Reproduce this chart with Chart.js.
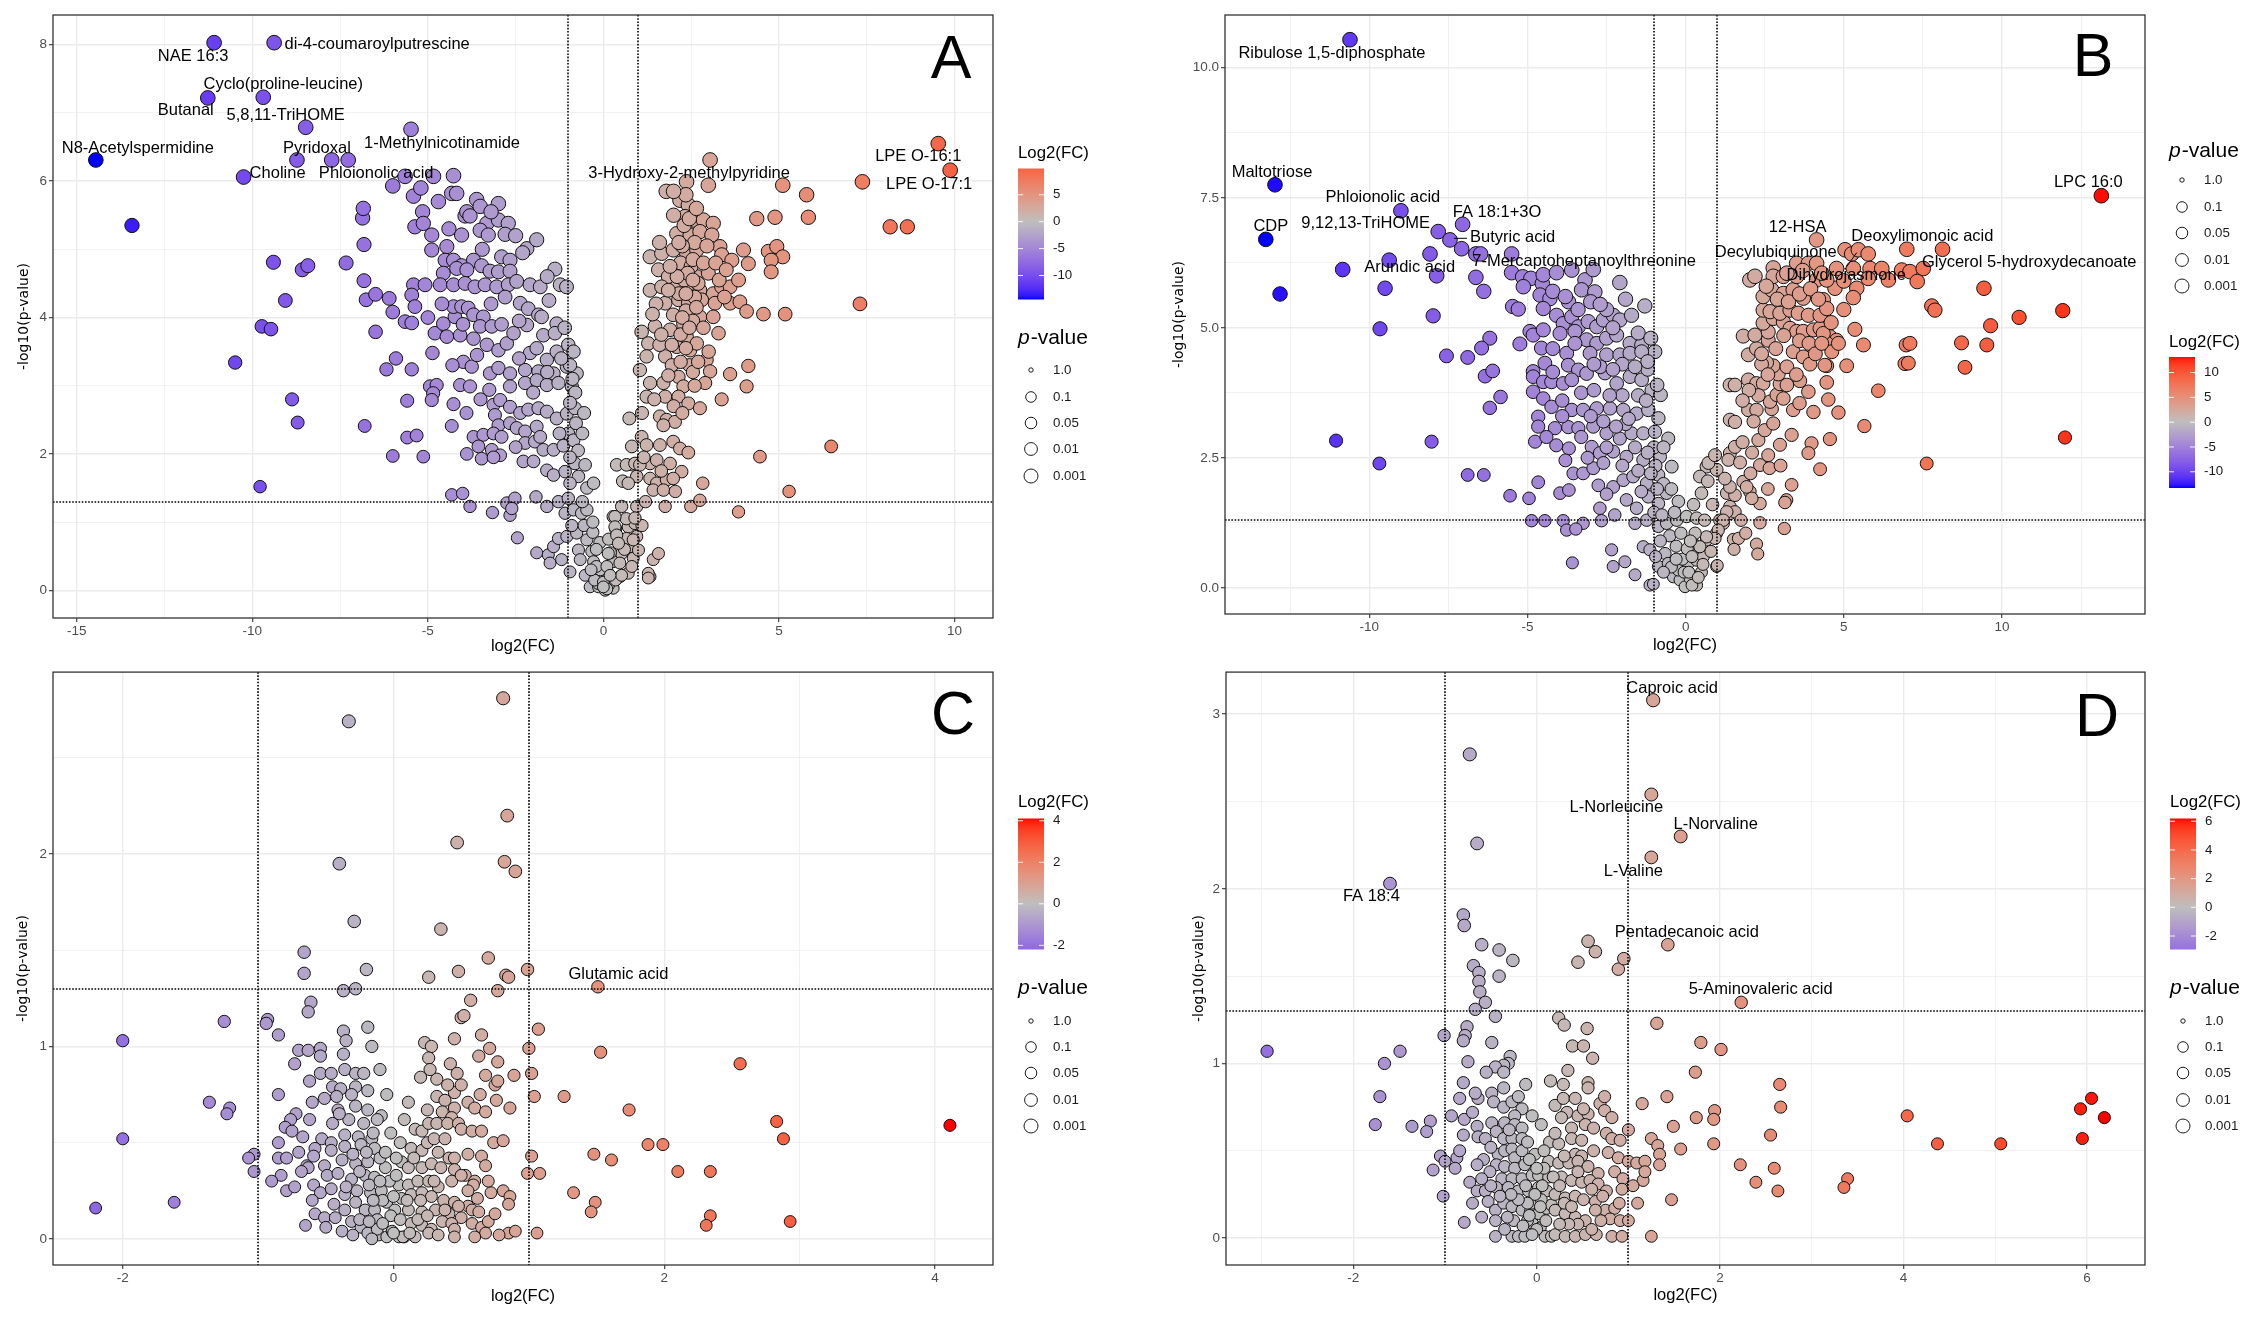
<!DOCTYPE html>
<html>
<head>
<meta charset="utf-8">
<script src="https://cdn.jsdelivr.net/npm/chart.js@4.4.1/dist/chart.umd.min.js"></script>
<style>
html, body { margin: 0; padding: 0; background: #ffffff; }
body { width: 2267px; height: 1323px; position: relative; overflow: hidden; }
canvas { position: absolute; }
</style>
</head>
<body>
<canvas id="cA" width="1134" height="662" style="left:0px;top:0px"></canvas>
<canvas id="cB" width="1133" height="662" style="left:1134px;top:0px"></canvas>
<canvas id="cC" width="1134" height="661" style="left:0px;top:662px"></canvas>
<canvas id="cD" width="1133" height="661" style="left:1134px;top:662px"></canvas>
<script>
// ---- data: [log2(FC), -log10(p-value)] ----
const volcanoA = [
  [-11.09,8.03],[-9.38,8.03],[-11.27,7.22],[-9.69,7.23],[-8.48,6.79],[-14.46,6.31],[-8.73,6.31],[-7.74,6.31],[-7.27,6.31],[-10.25,6.06],
  [-13.43,5.35],[-9.4,4.81],[-8.58,4.7],[-8.42,4.76],[-7.33,4.8],[-9.06,4.25],[-9.73,3.87],[-9.47,3.83],[-10.49,3.34],[-8.87,2.8],
  [-8.71,2.46],[-9.78,1.52],[-6.8,2.41],[-6.82,5.07],[-6.86,5.46],[-6.84,5.6],[-6.82,4.54],[-6.76,4.26],[-6.49,4.34],[-6.1,4.28],
  [-6.0,4.08],[-6.49,3.79],[-6.18,3.24],[-5.91,3.4],[-6.0,1.97],[-5.59,2.24],[-5.32,2.27],[-5.13,1.96],[-5.59,2.78],[-5.46,3.24],
  [-5.48,6.76],[-6.0,5.93],[-5.65,6.07],[-4.84,6.07],[-4.27,6.08],[-5.41,5.78],[-4.32,5.82],[-4.18,5.82],[-5.15,5.55],[-5.37,5.33],
  [-5.13,5.38],[-4.89,5.21],[-4.89,4.99],[-4.46,5.04],[-4.51,4.84],[-4.27,4.84],[-4.04,4.76],[-4.56,4.65],[-4.04,5.21],[-3.94,5.49],
  [-3.61,5.73],[-3.51,5.63],[-3.89,5.55],[-3.8,5.49],[-2.99,5.67],[-3.32,5.38],[-2.99,5.43],[-2.71,5.38],[-3.51,5.28],[-3.28,5.21],
  [-2.8,5.22],[-3.45,5.0],[-2.18,5.01],[-1.9,5.14],[-2.9,4.89],[-2.66,4.84],[-3.7,4.84],[-3.47,4.76],[-4.18,4.72],[-3.89,4.7],
  [-3.23,4.68],[-2.99,4.67],[-2.66,4.68],[-1.38,4.71],[-5.41,4.48],[-5.08,4.48],[-4.65,4.48],[-4.27,4.48],[-3.94,4.5],[-3.66,4.45],
  [-3.37,4.48],[-3.04,4.45],[-2.71,4.48],[-2.47,4.53],[-2.09,4.48],[-1.8,4.45],[-1.23,4.48],[-5.46,4.33],[-5.37,4.16],[-5.65,3.94],
  [-5.46,3.92],[-4.8,3.77],[-4.56,3.91],[-4.23,4.01],[-4.27,4.16],[-4.04,4.16],[-3.85,4.14],[-3.7,4.04],[-3.42,4.01],[-3.51,3.87],
  [-3.18,3.87],[-4.46,3.72],[-4.08,3.74],[-3.7,3.69],[-3.32,3.6],[-2.99,3.52],[-2.75,3.62],[-2.56,3.77],[-2.37,4.21],[-2.14,4.13],
  [-1.85,4.04],[-2.18,3.89],[-1.76,4.01],[-1.33,3.91],[-1.71,3.74],[-1.38,3.77],[-2.09,3.48],[-1.61,3.38],[-1.33,3.5],[-4.87,3.48],
  [-3.99,3.35],[-3.75,3.28],[-3.23,3.18],[-2.99,3.26],[-2.66,3.18],[-2.23,3.23],[-1.85,3.21],[-1.42,3.18],[-1.04,3.28],[-0.76,3.18],
  [-4.94,2.99],[-4.75,3.01],[-4.85,2.89],[-4.08,3.01],[-3.8,2.99],[-3.25,2.94],[-2.66,2.99],[-2.23,3.04],[-1.9,3.08],[-1.61,3.01],
  [-1.28,3.04],[-0.9,2.99],[-4.89,2.79],[-4.27,2.73],[-3.13,2.72],[-2.94,2.79],[-2.66,2.69],[-2.37,2.6],[-2.14,2.65],[-1.85,2.67],
  [-1.61,2.62],[-1.33,2.52],[-1.04,2.59],[-0.81,2.67],[-4.32,2.41],[-3.09,2.57],[-2.99,2.42],[-2.66,2.45],[-2.47,2.38],[-2.23,2.33],
  [-1.9,2.4],[-3.7,2.25],[-3.42,2.28],[-3.13,2.3],[-2.9,2.25],[-3.56,2.11],[-3.18,2.06],[-2.94,1.98],[-3.89,2.0],[-3.47,1.93],
  [-3.13,1.95],[-2.23,2.16],[-1.95,2.18],[-2.28,1.89],[-1.71,2.06],[-1.42,2.06],[-1.14,2.12],[-1.99,1.89],[-1.61,1.76],[-1.42,1.69],
  [-1.09,1.74],[-0.81,1.86],[-0.52,1.84],[-0.71,1.67],[-0.95,1.57],[-0.47,1.5],[-0.28,1.57],[-4.32,1.4],[-4.01,1.42],[-3.8,1.23],
  [-3.16,1.14],[-2.75,1.28],[-2.66,1.1],[-2.52,1.35],[-2.61,1.2],[-2.45,0.77],[-1.92,1.37],[-1.61,1.23],[-1.28,1.3],[-1.0,1.35],
  [-1.9,0.55],[-1.57,0.52],[-1.42,0.64],[-1.09,1.13],[-0.85,1.18],[-0.62,1.13],[-0.47,1.18],[-1.28,0.76],[-1.04,0.79],[-0.76,0.84],
  [-0.47,0.74],[-1.52,0.4],[-1.19,0.45],[-0.95,0.27],[-0.71,0.59],[-0.66,0.45],[-0.33,0.57],[-0.28,0.42],[-0.52,0.22],[-0.38,0.05],
  [-0.14,0.05],[-0.05,0.2],[0.14,0.25],[0.05,0.0],[0.28,0.03],[-0.09,0.3],[0.47,0.2],[0.71,0.25],[0.28,0.42],[0.52,0.54],
  [0.76,0.64],[0.85,0.47],[0.47,0.4],[0.28,1.08],[0.52,1.23],[0.71,0.93],[0.66,0.76],[0.9,0.98],[0.95,1.23],[0.95,0.79],
  [1.0,0.59],[1.42,0.45],[1.57,0.54],[1.33,0.2],[-0.95,3.3],[-0.88,3.1],[-0.8,2.9],[-0.95,2.75],[-0.78,2.45],[-1.0,2.3],
  [-0.85,2.2],[-0.72,2.05],[-0.95,1.95],[-0.15,0.1],[0.15,0.08],[-0.25,0.15],[0.0,0.12],[0.1,0.02],[-0.2,0.35],[0.2,0.55],
  [-0.55,0.95],[-0.3,0.85],[-0.1,0.7],[0.15,0.75],[0.35,0.9],
  [-5.2,5.9],[-4.7,5.7],[-4.4,5.3],[-3.2,5.55],[-2.5,5.2],[-2.3,4.95],[-1.6,4.6],[-1.05,4.45],[-1.55,4.25],[-2.8,4.3],
  [-3.2,4.2],[-4.6,4.2],[-5.0,4.0],[-4.0,3.9],[-2.9,3.9],[-2.4,3.95],[-1.1,3.85],[-1.0,3.6],[-1.9,3.55],[-2.4,3.4],
  [-3.6,3.45],[-4.3,3.3],[-1.2,3.4],[-0.85,3.5],[-1.6,3.2],[-2.0,2.9],[-3.5,2.8],[-3.9,2.6],[-2.5,2.1],[-1.8,2.25],
  [-1.25,2.3],[-0.6,2.3],[-0.55,2.6],[-0.6,1.3],[-0.3,1.0],[-0.9,0.95],[-0.2,0.6],[0.1,0.35],[0.35,0.15],[-0.35,0.3],
  [0.6,0.6],[0.65,1.05],[1.1,0.95],[0.55,1.6],
  [3.04,6.31],[2.37,5.99],[2.99,5.94],[1.79,5.85],[5.11,5.94],[5.79,5.8],[7.38,5.99],[9.54,6.55],[9.88,6.16],[4.37,5.45],
  [4.89,5.47],[5.84,5.47],[8.17,5.33],[8.66,5.33],[2.18,5.72],[2.42,5.65],[2.33,5.48],[2.56,5.43],[2.85,5.43],[3.13,5.38],
  [2.09,5.23],[2.47,5.21],[2.75,5.26],[3.09,5.21],[1.33,4.89],[1.66,4.94],[1.99,4.99],[2.37,4.94],[2.66,4.99],[3.32,5.04],
  [3.37,4.92],[3.66,4.84],[3.99,4.99],[4.13,4.79],[4.7,4.97],[4.94,5.04],[5.11,4.89],[4.78,4.84],[4.78,4.67],[1.57,4.7],
  [1.85,4.6],[2.28,4.7],[2.66,4.6],[2.99,4.65],[1.33,4.4],[1.66,4.45],[2.09,4.45],[2.47,4.45],[2.75,4.4],[3.13,4.35],
  [3.37,4.45],[3.61,4.45],[3.85,4.55],[1.76,4.21],[2.14,4.26],[2.42,4.21],[2.8,4.26],[3.18,4.21],[3.61,4.21],[3.89,4.23],
  [4.08,4.09],[4.56,4.05],[5.18,4.05],[7.31,4.2],[1.09,3.79],[1.47,3.87],[1.99,4.04],[1.9,3.82],[2.28,3.91],[2.75,4.01],
  [3.13,4.01],[3.28,3.77],[1.28,3.62],[1.23,3.43],[1.76,3.43],[2.09,3.57],[2.47,3.52],[2.37,3.72],[2.66,3.62],[1.04,3.23],
  [1.33,3.04],[1.71,3.04],[2.14,3.13],[2.28,2.99],[1.23,2.84],[1.76,2.84],[2.14,2.84],[2.42,2.74],[2.75,2.67],[2.94,3.38],
  [3.04,3.21],[2.9,3.04],[3.37,2.8],[3.61,3.17],[4.13,3.29],[4.08,2.99],[0.74,2.52],[1.61,2.55],[1.8,2.5],[2.04,2.47],
  [1.71,2.42],[1.09,2.25],[1.23,2.13],[0.81,2.11],[1.61,2.13],[1.99,2.18],[2.18,2.08],[2.42,2.02],[1.33,1.86],[1.52,1.91],
  [1.9,1.86],[2.23,1.74],[0.38,1.84],[0.85,1.84],[0.95,1.67],[1.33,1.64],[1.52,1.57],[1.8,1.62],[1.99,1.64],[0.71,1.57],
  [1.42,1.47],[1.71,1.47],[1.76,1.23],[2.49,1.23],[2.75,1.32],[2.83,1.57],[3.85,1.15],[4.46,1.96],[5.29,1.45],[6.49,2.11],
  [0.33,1.08],[0.33,0.93],[0.38,0.81],[0.9,1.06],[0.43,0.69],[0.85,0.74],[1.28,0.25],[1.28,0.18],[0.14,0.54],[0.52,0.22],
  [0.81,0.35],[0.19,0.22],[0.0,0.05],[0.66,1.84],[0.9,1.86],[1.04,1.84],
  [2.2,4.8],[2.5,4.75],[2.3,4.55],[2.6,4.3],[2.35,4.1],[2.55,3.95],[2.2,3.75],[2.45,3.3],[2.6,3.0],[1.95,3.3],
  [2.3,5.35],[2.6,5.1],[2.0,5.5],[2.7,4.5],[2.15,4.35],[1.5,4.2],[1.6,3.6],[1.85,3.15],
  [2.25,5.05],[2.55,4.85],[2.4,4.65],[2.85,4.8],[2.95,5.05],[2.15,5.1],[2.45,5.45],[2.65,5.6],[2.35,5.8],[2.1,4.6],
  [2.35,4.35],[2.55,4.55],[2.25,4.0],[2.45,3.85],[2.65,4.15],[2.85,3.85],[2.35,3.55],[2.55,3.2],[2.2,3.35],[1.95,3.6],
  [1.65,3.75],[1.4,4.05],[1.85,4.4],[1.9,4.75],[1.6,5.1],[2.0,5.85],[3.2,4.8],[3.45,4.3],[3.0,3.5],[2.7,3.35],
  [2.0,2.7],[2.25,2.6],[1.45,2.8],[1.1,2.6],[1.15,1.95],[1.65,1.75],[2.05,1.45],[1.2,1.3],[3.3,4.55],[3.5,4.7]
];

const volcanoB = [
  [-10.61,10.54],[-12.98,7.75],[13.14,7.54],[-13.27,6.7],[-12.82,5.65],
  [-9.0,7.25],[-7.05,6.99],[-7.82,6.85],[-7.45,6.69],[-7.08,6.52],[-6.63,6.42],[-6.48,6.42],[-8.08,6.42],[-9.37,6.3],[-9.5,5.76],
  [-10.84,6.12],[-7.87,6.0],[-6.63,5.97],[-6.38,5.7],[-5.5,6.42],[-5.5,6.06],[-5.15,5.98],[-4.89,5.95],[-4.53,5.85],[-5.13,5.79],
  [-4.5,6.02],[-4.08,6.06],[-3.6,6.11],[-3.18,5.92],[-2.92,6.12],[-2.08,5.87],[-3.29,5.73],[-2.87,5.69],[-4.6,5.63],[-4.29,5.56],
  [-4.5,5.37],[-5.47,5.41],[-5.29,5.36],[-1.29,5.42],[-7.98,5.23],[-9.66,4.98],[-6.19,4.8],[-6.45,4.61],[-7.56,4.46],[-6.89,4.43],
  [-6.34,4.07],[-6.1,4.17],[-5.85,3.67],[-6.19,3.46],[-11.05,2.83],[-8.03,2.81],[-9.68,2.39],[-6.89,2.17],[-6.38,2.17],[-5.55,1.77],
  [-4.95,1.72],[-4.66,2.03],[-4.87,1.29],[-4.45,1.29],[-3.87,1.29],[-3.24,1.24],[-2.66,1.29],[-3.76,1.11],[-3.47,1.13],[-3.58,0.48],
  [-3.97,1.82],[-3.69,1.88],
  [-4.92,4.93],[-4.82,4.86],[-4.5,4.96],[-5.24,4.69],[-4.56,4.61],[-4.82,4.16],[-4.45,4.32],
  [-4.08,5.24],[-3.87,5.08],[-3.6,5.21],[-3.39,5.02],[-3.08,5.12],[-2.81,5.02],[-2.6,5.15],[-2.29,5.24],[-2.08,5.15],[-1.71,5.24],
  [-3.97,4.89],[-3.5,4.93],[-3.13,4.77],[-2.81,4.7],[-2.5,4.8],[-2.18,4.86],[-1.76,4.7],[-1.39,4.67],[-0.97,4.54],
  [-3.76,4.51],[-3.71,4.28],[-3.39,4.19],[-3.02,4.51],[-2.5,4.48],[-2.08,4.48],[-1.76,4.51],[-1.39,4.54],
  [-4.82,4.06],[-4.5,3.96],[-4.24,3.96],[-3.87,3.93],[-3.13,4.12],[-2.55,4.13],[-2.18,3.93],[-1.76,4.06],[-1.39,4.0],[-1.07,3.8],[-0.79,3.71],
  [-4.82,3.77],[-4.5,3.64],[-4.24,3.48],[-3.6,3.42],[-3.24,3.42],[-2.81,3.45],[-2.39,3.45],[-1.97,3.42],[-1.55,3.35],[-1.18,3.42],[-0.86,3.26],
  [-4.66,3.29],[-4.66,3.1],[-4.13,3.07],[-3.71,3.09],[-3.39,3.07],[-2.92,3.1],[-2.5,2.97],[-2.08,2.87],[-1.71,2.97],[-1.34,2.97],[-0.97,3.0],
  [-4.76,2.81],[-4.09,2.74],[-3.69,2.68],[-2.97,2.71],[-2.71,2.59],[-2.29,2.62],[-1.87,2.52],[-1.34,2.46],[-0.81,2.52],[-0.55,2.87],
  [-3.55,2.2],[-3.24,2.2],[-2.92,2.3],[-2.76,1.97],[-2.29,1.94],[-1.97,2.07],[-1.66,2.14],[-1.23,2.01],[-0.86,2.17],[-0.44,2.33],
  [-2.71,1.53],[-2.24,1.4],[-1.87,1.69],[-1.55,1.53],[-1.18,1.75],[-0.86,1.62],[-0.6,1.82],[-0.23,1.66],
  [-1.6,1.24],[-1.23,1.3],[-0.86,1.18],[-0.6,1.24],[-0.28,1.3],[0.03,1.37],
  [-2.34,0.73],[-2.29,0.41],[-1.92,0.5],[-1.6,0.25],[-1.34,0.79],[-1.13,0.73],[-0.86,0.41],[-0.65,0.66],[-0.55,0.47],[-1.13,0.05],[-1.02,0.07],
  [-0.39,0.21],[-0.18,0.15],[-0.02,0.02],[0.14,0.18],[0.35,0.05],[-0.23,0.34],[0.08,0.47],[0.35,0.53],[0.56,0.6],
  [0.35,0.79],[0.66,0.92],[0.98,1.05],[0.98,0.41],[1.19,1.24],[1.4,1.43],[1.4,1.56],[1.3,1.82],[1.08,1.3],
  [0.66,2.33],[0.98,2.27],[1.4,2.59],[1.4,3.23],[1.4,3.9],
  [-3.0,5.5],[-2.5,5.35],[-3.7,5.5],[-2.0,4.3],[-1.2,4.2],[-2.7,4.25],[-3.3,3.75],[-2.0,3.7],[-2.9,3.8],[-1.5,3.7],
  [-3.9,3.6],[-2.6,3.2],[-1.9,3.15],[-1.0,2.7],[-3.1,2.5],[-2.0,2.35],[-1.5,2.25],[-1.2,2.6],[-0.7,2.0],[-2.5,1.8],
  [-1.0,1.45],[-0.5,1.0],[-0.3,0.8],[-0.8,0.9],[-0.1,0.55],[-0.45,0.4],[0.2,0.9],
  [-4.2,5.7],[-3.8,5.6],[-3.4,5.35],[-2.7,5.45],[-1.9,5.55],[-2.3,5.0],[-1.5,4.9],[-1.1,4.8],[-1.2,4.35],[-1.6,4.25],
  [-2.3,4.2],[-2.9,4.3],[-3.5,4.7],[-4.2,4.6],[-4.2,4.15],[-3.6,4.0],[-2.4,3.7],[-1.25,3.6],[-0.9,3.9],[-1.8,3.25],
  [-2.2,3.1],[-3.0,3.3],[-3.9,3.3],[-4.4,2.9],[-3.3,2.9],[-2.5,2.7],[-1.6,2.7],[-0.95,2.35],[-0.7,2.7],[-1.1,2.2],
  [-2.6,2.4],[-3.8,2.45],[-1.4,1.85],[-0.9,1.9],[-0.45,1.9],[-0.35,1.45],[-0.75,1.4],[-0.95,0.6],[-0.7,0.3],[-0.3,0.55],
  [-0.05,0.3],[0.2,0.05],[0.5,0.3],[0.05,0.75],[-0.15,1.05],
  [4.14,6.69],[5.04,6.5],[5.25,6.42],[5.46,6.5],[5.77,6.42],[6.99,6.51],[8.12,6.51],[4.77,6.14],[5.3,6.14],[5.83,6.14],
  [6.2,6.14],[6.83,6.11],[7.09,6.08],[7.51,6.14],[6.41,5.92],[7.32,5.89],[5.77,5.95],[4.72,5.76],[5.41,5.76],[5.3,5.58],
  [9.43,5.76],[7.78,5.42],[7.88,5.34],[10.54,5.2],[11.92,5.33],[9.64,5.04],[8.72,4.71],[9.52,4.67],[6.97,4.67],[7.09,4.7],
  [6.93,4.31],[7.04,4.32],[8.83,4.24],[5.35,4.97],[5.62,4.67],[6.09,3.79],[5.09,4.27],[5.65,3.11],[11.99,2.89],[7.62,2.39],
  [4.25,2.28],[4.56,2.86],[4.83,3.37],[4.51,3.62],[4.46,3.95],[4.46,4.27],[4.04,3.38],[3.88,3.77],[3.61,3.98],[3.98,2.78],
  [3.88,2.59],[3.4,3.42],[3.35,2.94],[3.35,1.98],[3.19,1.69],[3.14,1.64],[3.12,1.14],[2.24,0.84],[2.28,0.65],[2.35,1.25],
  [2.35,1.62],[1.51,0.93],[1.67,0.95],[1.53,0.74],[2.03,1.85],[2.09,1.72],[1.82,2.04],[1.93,1.94],[1.56,1.78],[1.4,1.94],
  [1.24,2.1],[1.56,1.46],[1.3,1.46],[1.19,1.3],[1.03,1.11],[0.93,0.95],[0.66,0.98],[0.45,0.79],[0.3,1.05],[0.35,1.34],
  [1.0,0.43],[0.5,1.82],[0.45,2.14],[0.72,2.4],[0.93,2.55],[1.35,2.46],[1.72,2.41],[1.56,2.71],[1.56,3.19],[2.35,2.36],
  [2.61,2.55],[2.98,2.75],[2.3,2.84],[2.5,3.03],[2.77,3.16],[1.98,3.42],[2.24,3.42],[2.72,3.44],[2.67,3.58],[2.88,3.71],
  [3.09,3.64],[2.98,3.92],[2.93,4.11],[2.77,4.27],[2.56,4.33],[2.4,4.3],[1.56,3.9],[1.98,4.0],[2.24,3.93],[2.45,3.93],
  [1.98,4.48],[2.24,4.6],[1.82,4.84],[2.19,4.86],[2.61,4.76],[2.61,4.92],[3.4,4.54],[3.72,4.44],[3.93,4.3],[4.4,4.28],
  [2.45,5.09],[2.77,5.18],[3.09,5.11],[3.3,4.99],[3.51,4.93],[3.72,4.93],[4.04,4.96],[4.25,4.99],[2.45,5.34],[2.67,5.31],
  [2.98,5.28],[3.3,5.34],[3.56,5.28],[3.88,5.24],[4.25,5.24],[2.45,5.6],[2.72,5.73],[3.09,5.66],[3.4,5.73],[3.72,5.57],
  [4.35,5.54],[4.46,5.37],[2.03,5.92],[2.19,5.99],[2.77,6.15],[2.77,5.99],[3.09,5.99],[3.51,5.99],[3.51,6.24],[3.88,6.24],
  [4.14,6.24],[4.14,5.92],[4.46,5.92],[4.56,4.83],[4.77,4.76],[4.46,4.7],[4.35,4.89],[4.62,4.54],[4.83,4.7],
  [0.2,0.6],[0.1,0.3],[0.4,0.2],[0.55,0.45],[0.8,0.7],[0.15,0.9],[0.6,1.3],[0.85,1.6],[0.25,1.6],[0.7,2.05],
  [2.55,5.8],[2.9,5.55],[3.25,5.5],[3.6,5.65],[3.95,5.75],[4.2,5.55],[3.2,6.05],[3.7,6.1],[4.3,6.05],[2.4,4.5],
  [2.85,4.6],[3.1,4.85],[3.6,4.75],[3.9,4.7],[4.1,4.5],[3.2,4.25],[3.5,4.1],[2.6,4.1],[3.2,3.9],[2.3,3.7],
  [2.0,3.8],[1.8,3.6],[3.6,3.55],[2.15,3.2],[1.8,2.8],[2.1,2.6],[2.65,2.3],[3.0,2.35],[2.05,2.2],[1.75,1.3],
  [1.9,1.05],[2.6,1.9],[4.3,4.7],[4.6,5.1],[5.0,5.35],[5.0,5.9]
];

const volcanoC = [
  [0.81,2.81],[-0.33,2.69],[0.84,2.2],[0.47,2.06],[-0.4,1.95],[0.82,1.96],[0.9,1.91],[-0.29,1.65],[0.35,1.61],[-0.66,1.49],
  [0.7,1.46],[-0.2,1.4],[-0.66,1.38],[0.26,1.36],[0.48,1.39],[0.83,1.37],[0.85,1.36],[0.99,1.4],[1.51,1.31],[-0.37,1.29],
  [-0.28,1.3],[0.77,1.29],[0.57,1.24],[-0.61,1.23],[-0.63,1.18],[-1.25,1.13],[-0.93,1.14],[-2.0,1.03],[-2.0,0.52],[0.5,1.15],
  [0.52,1.16],[1.53,0.97],[2.56,0.91],[1.26,0.74],[1.74,0.67],[2.83,0.61],[2.88,0.52],[4.11,0.59],[1.88,0.49],[1.99,0.49],
  [1.48,0.44],[1.61,0.41],[2.1,0.35],[2.34,0.35],[1.33,0.24],[1.49,0.19],[1.46,0.14],[2.34,0.12],[2.31,0.07],[2.93,0.09],
  [-1.36,0.71],[-1.21,0.68],[-1.23,0.65],[-1.62,0.19],[-2.2,0.16],[-1.03,0.44],[-1.07,0.42],[-1.03,0.35],
  [-0.85,1.06],[-0.94,1.12],[-0.7,0.98],[-0.63,0.98],[-0.54,0.99],[-0.54,0.95],[-0.73,0.91],[-0.37,1.08],[-0.35,1.03],[-0.37,0.96],
  [-0.19,1.1],[-0.16,1.0],[-0.54,0.86],[-0.46,0.86],[-0.36,0.88],[-0.28,0.86],[-0.22,0.86],[-0.45,0.79],[-0.39,0.78],[-0.28,0.79],
  [-0.19,0.77],[-0.42,0.74],[-0.31,0.75],[-0.6,0.71],[-0.51,0.73],[-0.41,0.67],[-0.28,0.69],[-0.19,0.67],[-0.09,0.64],[-0.72,0.65],
  [-0.76,0.62],[-0.62,0.62],[-0.8,0.58],[-0.75,0.56],[-0.67,0.53],[-0.53,0.52],[-0.46,0.5],[-0.36,0.54],[-0.26,0.53],[-0.16,0.52],
  [-0.85,0.5],[-0.58,0.47],[-0.46,0.46],[-0.36,0.48],[-0.24,0.49],[-0.14,0.47],[-0.85,0.42],[-0.79,0.42],[-0.64,0.38],[-0.59,0.43],
  [-0.51,0.38],[-0.38,0.41],[-0.28,0.39],[-0.19,0.4],[-0.06,0.37],[-0.83,0.33],[-0.63,0.37],[-0.49,0.33],[-0.41,0.34],[-0.31,0.31],
  [-0.21,0.33],[-0.14,0.32],[-0.79,0.25],[-0.73,0.27],[-0.59,0.28],[-0.54,0.24],[-0.46,0.26],[-0.36,0.23],[-0.27,0.25],[-0.17,0.24],
  [-0.09,0.25],[-0.58,0.13],[-0.51,0.11],[-0.43,0.11],[-0.36,0.15],[-0.28,0.19],[-0.21,0.15],[-0.14,0.15],[-0.05,0.19],[-0.38,0.04],
  [-0.31,0.09],[-0.24,0.06],[-0.19,0.03],[-0.11,0.02],[-0.05,0.01],[-0.01,0.04],[0.04,0.01],[0.08,0.01],
  [0.11,0.71],[0.23,1.02],[0.28,1.0],[0.2,0.84],[0.32,0.83],[0.26,0.94],[0.27,0.88],[0.45,1.04],[0.42,0.91],[0.47,0.86],
  [0.45,0.76],[0.4,0.8],[0.5,0.8],[0.65,1.06],[0.71,0.99],[0.63,0.95],[0.77,0.92],[0.68,0.85],[0.75,0.8],[0.77,0.82],
  [0.89,0.85],[0.64,0.75],[0.76,0.72],[0.86,0.68],[0.55,0.71],[0.6,0.68],[0.68,0.66],[0.32,0.74],[0.38,0.72],[0.25,0.67],
  [0.36,0.66],[0.45,0.68],[0.43,0.63],[0.16,0.57],[0.21,0.56],[0.26,0.6],[0.32,0.6],[0.4,0.6],[0.48,0.6],[0.5,0.57],
  [0.58,0.56],[0.65,0.56],[0.74,0.5],[0.81,0.51],[0.13,0.47],[0.21,0.46],[0.25,0.5],[0.33,0.45],[0.41,0.42],[0.45,0.42],
  [0.65,0.43],[0.68,0.38],[0.06,0.4],[0.11,0.37],[0.21,0.37],[0.28,0.39],[0.35,0.37],[0.45,0.36],[0.53,0.33],[0.6,0.3],
  [0.59,0.28],[0.04,0.28],[0.11,0.28],[0.18,0.3],[0.26,0.3],[0.33,0.27],[0.43,0.3],[0.5,0.33],[0.06,0.21],[0.13,0.23],
  [0.21,0.24],[0.28,0.22],[0.37,0.2],[0.45,0.19],[0.55,0.17],[0.72,0.24],[0.81,0.25],[0.86,0.22],[0.85,0.18],[0.01,0.15],
  [0.11,0.15],[0.21,0.14],[0.31,0.15],[0.41,0.13],[0.5,0.11],[0.58,0.15],[0.63,0.14],[0.13,0.08],[0.21,0.07],[0.28,0.05],
  [0.36,0.09],[0.43,0.08],[0.45,0.05],[0.58,0.08],[0.65,0.06],[0.68,0.03],[0.07,0.01],[0.16,0.01],[0.26,0.03],[0.45,0.01],
  [0.6,0.01],[0.85,0.03],[0.9,0.04],[1.06,0.03],[1.0,0.99],[1.02,0.86],[1.04,0.74],[1.02,0.43],[0.99,0.34],[1.08,0.34],
  [1.07,1.09],[-0.12,0.1],[-0.08,0.2],[-0.03,0.3],[-0.1,0.42],[-0.02,0.12],[0.0,0.22],[0.02,0.33],[-0.18,0.28],[-0.12,0.05],
  [-0.15,0.55],[0.05,0.5],[0.08,0.62],[-0.05,0.75],[-0.1,0.88],
  [-0.45,0.6],[-0.33,0.62],[-0.22,0.6],[-0.12,0.62],[-0.3,0.44],[-0.2,0.45],[-0.1,0.3],[-0.25,0.35],[-0.35,0.27],[-0.15,0.2],
  [-0.25,0.1],[-0.08,0.08],[-0.18,0.09],[-0.3,0.02],[-0.16,0.0],[0.0,0.03],[0.05,0.1],[0.12,0.03],[0.18,0.1],[0.25,0.12],
  [0.33,0.02],[0.38,0.15],[0.3,0.3],[0.2,0.2],[0.1,0.2],[0.15,0.42],[0.3,0.52],[0.38,0.52],[0.55,0.25],[0.62,0.21],
  [0.7,0.09],[0.75,0.13],[0.78,0.02],[0.55,0.44],[0.7,0.3],[0.48,0.17],[-0.02,0.55],[-0.06,0.45],[0.02,0.42],[-0.6,0.2],
  [-0.68,0.35],[-0.7,0.45],[-0.44,0.18],[-0.5,0.06],[-0.65,0.07],[-0.4,0.65],[-0.62,0.82],[-0.85,0.75],[-0.9,0.3]
];

const volcanoD = [
  [1.27,3.08],[-0.73,2.77],[1.25,2.54],[-0.65,2.26],[1.57,2.3],[1.25,2.18],[-1.6,2.03],[-0.8,1.85],[-0.79,1.79],[-0.6,1.68],
  [-0.41,1.65],[-0.26,1.59],[-0.41,1.5],[-0.69,1.56],[-0.63,1.52],[-0.63,1.47],[-0.62,1.41],[0.56,1.7],[0.64,1.64],[0.45,1.58],
  [0.89,1.54],[0.95,1.6],[1.43,1.68],[2.23,1.35],[1.79,1.12],[2.01,1.08],[-2.94,1.07],[-1.49,1.07],[-1.66,1.0],[1.73,0.95],
  [2.65,0.88],[2.66,0.75],[-1.71,0.81],[-1.76,0.65],[-1.36,0.64],[1.42,0.81],[1.49,0.64],[1.74,0.69],[1.94,0.73],[1.93,0.68],
  [4.04,0.7],[6.05,0.8],[5.93,0.74],[6.19,0.69],[5.95,0.57],[4.37,0.54],[5.06,0.54],[2.55,0.59],[1.93,0.54],[1.57,0.51],
  [2.22,0.42],[2.59,0.4],[2.39,0.32],[2.63,0.27],[3.39,0.34],[3.35,0.29],[1.47,0.22],
  [-0.56,1.35],[-0.67,1.31],[-0.45,1.27],[-1.01,1.16],[-0.76,1.21],[-0.78,1.16],[-0.8,1.13],[-0.49,1.12],[-0.75,1.01],[-0.29,1.04],
  [-0.31,1.0],[-0.36,0.99],[-0.45,0.98],[-0.36,0.95],[-0.8,0.89],[-0.84,0.8],[-0.64,0.8],[-0.67,0.83],[-0.49,0.83],[-0.36,0.86],
  [-0.47,0.78],[-0.36,0.75],[-0.27,0.78],[-0.2,0.81],[-0.16,0.74],[-0.24,0.7],[-0.93,0.7],[-1.16,0.67],[-1.2,0.61],[-0.79,0.68],
  [-0.65,0.64],[-0.49,0.66],[-0.44,0.61],[-0.35,0.66],[-0.24,0.65],[-0.16,0.63],[-0.8,0.59],[-0.64,0.58],[-0.56,0.57],[-0.36,0.57],
  [-0.27,0.57],[-0.16,0.57],[-1.05,0.47],[-1.0,0.44],[-1.13,0.39],[-1.02,0.24],[-0.87,0.46],[-0.84,0.5],[-0.89,0.4],[-0.42,0.48],
  [-0.35,0.5],[-0.27,0.51],[-0.24,0.46],[-0.16,0.5],[-0.44,0.42],[-0.35,0.41],[-0.24,0.4],[-0.13,0.42],[-0.51,0.38],[-0.38,0.34],
  [-0.27,0.34],[-0.16,0.34],[-0.05,0.36],[0.02,0.36],[-0.73,0.32],[-0.65,0.27],[-0.56,0.27],[-0.44,0.29],[-0.31,0.29],[-0.2,0.27],
  [-0.09,0.27],[0.02,0.29],[-0.53,0.21],[-0.45,0.16],[-0.36,0.2],[-0.27,0.18],[-0.16,0.16],[-0.07,0.15],[0.02,0.14],[0.11,0.17],
  [0.16,0.19],[-0.79,0.09],[-0.45,0.1],[-0.45,0.01],[-0.27,0.01],[-0.2,0.01],[-0.13,0.01],[-0.04,0.08],[0.04,0.06],[0.09,0.01],
  [0.16,0.01],[0.24,1.26],[0.3,1.22],[0.55,1.2],[0.39,1.1],[0.51,1.1],[0.61,1.03],[0.34,0.96],[0.29,0.88],[0.56,0.89],
  [0.56,0.86],[0.2,0.76],[0.29,0.8],[0.42,0.8],[0.33,0.72],[0.45,0.7],[0.56,0.71],[0.51,0.74],[0.27,0.69],[0.38,0.63],
  [0.53,0.65],[0.62,0.63],[0.69,0.77],[0.74,0.81],[0.74,0.73],[0.82,0.69],[0.14,0.55],[0.24,0.54],[0.38,0.57],[0.49,0.56],
  [0.76,0.6],[0.82,0.57],[0.91,0.56],[1.0,0.62],[0.42,0.48],[0.49,0.47],[0.78,0.49],[0.89,0.46],[1.0,0.44],[1.09,0.43],
  [1.18,0.44],[0.13,0.44],[0.24,0.43],[0.35,0.43],[0.45,0.44],[0.56,0.41],[0.67,0.37],[0.85,0.38],[0.94,0.34],[1.16,0.33],
  [0.13,0.35],[0.27,0.35],[0.38,0.33],[0.49,0.32],[0.58,0.33],[0.67,0.31],[0.76,0.27],[0.93,0.28],[0.11,0.27],[0.2,0.25],
  [0.31,0.23],[0.42,0.24],[0.51,0.22],[0.64,0.21],[0.75,0.16],[0.85,0.17],[0.2,0.16],[0.31,0.14],[0.42,0.12],[0.53,0.1],
  [0.64,0.16],[0.8,0.11],[0.91,0.1],[1.0,0.1],[0.2,0.02],[0.31,0.01],[0.42,0.01],[0.53,0.02],[0.65,0.02],[0.82,0.01],
  [0.93,0.01],[1.25,0.01],[1.15,0.77],[1.25,0.57],[1.32,0.53],[1.34,0.48],[1.34,0.42],[1.18,0.38],[1.31,1.23],
  [-0.1,0.1],[-0.05,0.2],[0.05,0.22],[0.0,0.05],[-0.12,0.3],[0.08,0.4],[-0.02,0.48],
  [-0.35,0.05],[-0.25,0.1],[-0.15,0.07],[-0.08,0.13],[-0.05,0.02],[0.04,0.18],[0.1,0.1],[0.06,0.3],[-0.02,0.25],[-0.1,0.2],
  [-0.2,0.22],[-0.28,0.25],[-0.32,0.12],[-0.4,0.24],[-0.5,0.3],[-0.6,0.34],[-0.58,0.45],[-0.5,0.52],[-0.3,0.62],[-0.1,0.55],
  [-0.08,0.45],[0.0,0.4],[0.08,0.5],[0.18,0.35],[0.25,0.3],[0.3,0.2],[0.38,0.18],[0.45,0.08],[0.35,0.08],[0.25,0.08],
  [0.6,0.05],[0.7,0.1],[0.72,0.24],[0.6,0.28],[0.45,0.38],[0.62,0.5],[0.3,0.47],[0.2,0.6],[0.05,0.65],[-0.12,0.88],
  [-0.05,0.7],[0.15,0.9],[-0.6,0.12],[-0.7,0.2],[-0.65,0.42],[-0.7,0.72],[-0.55,0.95],[0.9,0.2],[1.1,0.2],[1.05,0.3]
];

// labelled metabolites: [name, log2(FC), -log10(p)]
const labelsA = [
  ['NAE 16:3',-11.09,8.03],['di-4-coumaroylputrescine',-9.38,8.03],['Cyclo(proline-leucine)',-9.69,7.23],['Butanal',-11.27,7.22],
  ['5,8,11-TriHOME',-8.48,6.79],['N8-Acetylspermidine',-14.46,6.31],['Pyridoxal',-8.73,6.31],['1-Methylnicotinamide',-5.48,6.76],
  ['Choline',-10.25,6.06],['Phloionolic acid',-7.27,6.31],['3-Hydroxy-2-methylpyridine',3.04,6.31],['LPE O-16:1',9.54,6.55],['LPE O-17:1',9.88,6.16]
];
const labelsB = [
  ['Ribulose 1,5-diphosphate',-10.61,10.54],['Maltotriose',-12.98,7.75],['LPC 16:0',13.14,7.54],['Phloionolic acid',-9.0,7.25],
  ['FA 18:1+3O',-7.05,6.99],['CDP',-13.27,6.7],['9,12,13-TriHOME',-7.82,6.85],['Butyric acid',-7.45,6.69],['Arundic acid',-10.84,6.12],
  ['7-Mercaptoheptanoylthreonine',-6.48,6.42],['12-HSA',4.14,6.69],['Decylubiquinone',2.77,6.15],['Deoxylimonoic acid',6.99,6.51],
  ['Dihydrojasmone',5.25,6.42],['Glycerol 5-hydroxydecanoate',7.51,6.14]
];
const labelsC = [['Glutamic acid',1.51,1.31]];
const labelsD = [
  ['Caproic acid',1.27,3.08],['L-Norleucine',1.25,2.54],['L-Norvaline',1.57,2.3],['L-Valine',1.25,2.18],
  ['FA 18:4',-1.6,2.03],['Pentadecanoic acid',1.43,1.68],['5-Aminovaleric acid',2.23,1.35]
];

// axis ticks
const xMajorA = [-15,-10,-5,0,5,10], xMinorA = [-12.5,-7.5,-2.5,2.5,7.5];
const yMajorA = [0,2,4,6,8], yMinorA = [1,3,5,7];
const xMajorB = [-10,-5,0,5,10], xMinorB = [-12.5,-7.5,-2.5,2.5,7.5,12.5];
const yMajorB = [0,2.5,5,7.5,10], yMinorB = [1.25,3.75,6.25,8.75];
const xMajorC = [-2,0,2,4], xMinorC = [-1,1,3];
const yMajorC = [0,1,2], yMinorC = [0.5,1.5,2.5];
const xMajorD = [-2,0,2,4,6], xMinorD = [-3,-1,1,3,5];
const yMajorD = [0,1,2,3], yMinorD = [0.5,1.5,2.5];

// colour-bar ticks and p-value legend
const fcTicksA = [-10,-5,0,5];
const fcTicksB = [-10,-5,0,5,10];
const fcTicksC = [-2,0,2,4];
const fcTicksD = [-2,0,2,4,6];
const pLegendLabels = ['1.0','0.1','0.05','0.01','0.001'];
const cutoffsFC = [-1, 1];
const cutoffP = 1.30103; // -log10(0.05)

// ---- styles (label offsets in px from the point) ----
const labelOffA = [[-21,14],[103,2],[20,-13],[-22,13],[-20,-12],[42,-12],[20,-12],[31,14],[34,-4],[28,13],[-21,13],[-20,13],[-21,14]];
const labelOffB = [[-18,14],[-3,-12.5],[-13,-13],[-18,-13],[34.5,-12],[5,-13],[-72.6,-8.5],[62.7,-2.6,4,-1.6,17,-1.6],[67,-2],
  [103.5,8],[-19,-12],[2.5,-15.3],[15.6,-12.6],[-5.5,22,-5,12.7,5,-1.3],[106,-6]];
const labelOffC = [[20.5,-12.6]];
const labelOffD = [[19,-12],[-35,13],[35,-12],[-18,13.6],[-18.6,12.7],[19,-12.5],[19.4,-13]];
const pLegendRadius = [2.2,5.3,5.8,6.4,7.0];

const FONT = "'Liberation Sans', Arial, Helvetica, sans-serif";

// ggplot-like gradient2 (blue - grey - red), interpolated in CIELAB
function hexToLab(hex) {
  const n = parseInt(hex.slice(1), 16);
  const lin = c => { c /= 255; return c <= 0.04045 ? c / 12.92 : Math.pow((c + 0.055) / 1.055, 2.4); };
  const r = lin((n >> 16) & 255), g = lin((n >> 8) & 255), b = lin(n & 255);
  const X = (0.4124564 * r + 0.3575761 * g + 0.1804375 * b) / 0.95047;
  const Y = 0.2126729 * r + 0.7151522 * g + 0.0721750 * b;
  const Z = (0.0193339 * r + 0.1191920 * g + 0.9503041 * b) / 1.08883;
  const f = t => t > 0.008856 ? Math.cbrt(t) : 7.787 * t + 16 / 116;
  const fx = f(X), fy = f(Y), fz = f(Z);
  return [116 * fy - 16, 500 * (fx - fy), 200 * (fy - fz)];
}
function labToCss(L, a, b) {
  const fy = (L + 16) / 116, fx = fy + a / 500, fz = fy - b / 200;
  const inv = t => t * t * t > 0.008856 ? t * t * t : (t - 16 / 116) / 7.787;
  const X = inv(fx) * 0.95047, Y = inv(fy), Z = inv(fz) * 1.08883;
  const r = 3.2404542 * X - 1.5371385 * Y - 0.4985314 * Z;
  const g = -0.9692660 * X + 1.8760108 * Y + 0.0415560 * Z;
  const bl = 0.0556434 * X - 0.2040259 * Y + 1.0572252 * Z;
  const gam = c => {
    c = c <= 0.0031308 ? 12.92 * c : 1.055 * Math.pow(c, 1 / 2.4) - 0.055;
    return Math.round(Math.max(0, Math.min(1, c)) * 255);
  };
  return 'rgb(' + gam(r) + ',' + gam(g) + ',' + gam(bl) + ')';
}
const LOW = hexToLab('#0000FF'), MID = hexToLab('#BEBEBE'), HIGH = hexToLab('#FF0000');
function fcColour(v, lim) {
  let t = Math.max(-1, Math.min(1, v / lim));
  const end = t < 0 ? LOW : HIGH;
  t = Math.abs(t);
  return labToCss(MID[0] + (end[0] - MID[0]) * t, MID[1] + (end[1] - MID[1]) * t, MID[2] + (end[2] - MID[2]) * t);
}
// point size grows a little with significance
function pointSize(y) {
  return 5.9 + 0.24 * Math.min(Math.max(y, 0), 6);
}

const panels = [
  { id: 'cA', letter: 'A', pts: volcanoA, labels: labelsA, offs: labelOffA,
    xMajor: xMajorA, xMinor: xMinorA, yMajor: yMajorA, yMinor: yMinorA, yFmt: v => String(v),
    xMin: -15.68, xMax: 11.10, yMin: -0.406, yMax: 8.436,
    pad: { left: 10, right: 141, top: 15, bottom: 0 }, yAxisW: 43, xAxisH: 44, xTitlePad: 5.7, yTitlePad: 5.6,
    letterPos: [951, 59], fcTicks: fcTicksA,
    leg: { left: 1018, fcTitle: 153, barTop: 168.5, pTitle: 338, rows: [370,397,423,449,476] } },
  { id: 'cB', letter: 'B', pts: volcanoB, labels: labelsB, offs: labelOffB,
    xMajor: xMajorB, xMinor: xMinorB, yMajor: yMajorB, yMinor: yMinorB, yFmt: v => v.toFixed(1),
    xMin: -14.56, xMax: 14.52, yMin: -0.504, yMax: 11.015,
    pad: { left: 30, right: 122, top: 15, bottom: 0 }, yAxisW: 61, xAxisH: 48, xTitlePad: 6.8, yTitlePad: 7.1,
    letterPos: [959, 57], fcTicks: fcTicksB,
    leg: { left: 1035, fcTitle: 342, barTop: 357, pTitle: 151, rows: [180,207,233,260,286] } },
  { id: 'cC', letter: 'C', pts: volcanoC, labels: labelsC, offs: labelOffC,
    xMajor: xMajorC, xMinor: xMinorC, yMajor: yMajorC, yMinor: yMinorC, yFmt: v => String(v),
    xMin: -2.515, xMax: 4.428, yMin: -0.136, yMax: 2.946,
    pad: { left: 10, right: 141, top: 2, bottom: 0 }, yAxisW: 43, xAxisH: 58, xTitlePad: 16.6, yTitlePad: 5.1,
    letterPos: [953, 53], fcTicks: fcTicksC,
    leg: { left: 1018, fcTitle: 140, barTop: 156.5, pTitle: 326, rows: [359,385,411,438,464] } },
  { id: 'cD', letter: 'D', pts: volcanoD, labels: labelsD, offs: labelOffD,
    xMajor: xMajorD, xMinor: xMinorD, yMajor: yMajorD, yMinor: yMinorD, yFmt: v => String(v),
    xMin: -3.388, xMax: 6.633, yMin: -0.154, yMax: 3.241,
    pad: { left: 50, right: 122, top: 2, bottom: 0 }, yAxisW: 42, xAxisH: 58, xTitlePad: 17.7, yTitlePad: 6.5,
    letterPos: [963, 55], fcTicks: fcTicksD,
    leg: { left: 1036, fcTitle: 140, barTop: 156.5, pTitle: 326, rows: [359,385,411,438,464] } }
];

function axis(p, dir) {
  const major = dir === 'x' ? p.xMajor : p.yMajor;
  const minor = dir === 'x' ? p.xMinor : p.yMinor;
  const isMajor = v => major.indexOf(v) >= 0;
  return {
    type: 'linear',
    position: dir === 'x' ? 'bottom' : 'left',
    min: dir === 'x' ? p.xMin : p.yMin,
    max: dir === 'x' ? p.xMax : p.yMax,
    afterBuildTicks: ax => { ax.ticks = major.concat(minor).sort((a, b) => a - b).map(v => ({ value: v })); },
    afterFit: ax => { if (dir === 'x') ax.height = p.xAxisH; else ax.width = p.yAxisW; },
    grid: {
      color: '#EBEBEB',
      lineWidth: c => (c.tick && isMajor(c.tick.value)) ? 1.4 : 0.7,
      tickColor: c => (c.tick && isMajor(c.tick.value)) ? '#333333' : 'rgba(0,0,0,0)',
      tickLength: 4,
      tickWidth: 1.1
    },
    border: { display: false },
    ticks: {
      autoSkip: false, maxRotation: 0, padding: dir === 'x' ? 1 : 2,
      color: '#4D4D4D', font: { family: FONT, size: 13.5 },
      callback: v => isMajor(v) ? (dir === 'x' ? String(v) : p.yFmt(v)) : ''
    },
    title: dir === 'x'
      ? { display: true, text: 'log2(FC)', color: '#000', font: { family: FONT, size: 16.5 }, padding: { top: 0, bottom: p.xTitlePad } }
      : { display: true, text: '-log10(p-value)', color: '#000', font: { family: "'DejaVu Sans', sans-serif", size: 14 }, padding: { top: p.yTitlePad, bottom: 0 } }
  };
}

function decorPlugin(p, lim, fmin, fmax) {
  return {
    id: 'decor' + p.letter,
    afterDatasetsDraw(chart) {
      const { ctx, chartArea: a, scales: { x, y } } = chart;
      ctx.save();
      ctx.beginPath();
      ctx.rect(a.left, a.top, a.right - a.left, a.bottom - a.top);
      ctx.clip();
      // cut-off lines
      ctx.strokeStyle = '#000';
      ctx.lineWidth = 1.6;
      ctx.setLineDash([1.6, 1.6]);
      cutoffsFC.forEach(v => {
        const px = Math.round(x.getPixelForValue(v));
        ctx.beginPath(); ctx.moveTo(px, a.top); ctx.lineTo(px, a.bottom); ctx.stroke();
      });
      const py = Math.round(y.getPixelForValue(cutoffP));
      ctx.beginPath(); ctx.moveTo(a.left, py); ctx.lineTo(a.right, py); ctx.stroke();
      ctx.setLineDash([]);
      // labels
      ctx.fillStyle = '#000';
      ctx.strokeStyle = '#000';
      ctx.font = '16.5px ' + FONT;
      ctx.textAlign = 'center';
      ctx.textBaseline = 'middle';
      p.labels.forEach((l, i) => {
        const o = p.offs[i];
        const px0 = x.getPixelForValue(l[1]), py0 = y.getPixelForValue(l[2]);
        ctx.fillText(l[0], px0 + o[0], py0 + o[1]);
        if (o.length > 2) {
          ctx.lineWidth = 1;
          ctx.beginPath(); ctx.moveTo(px0 + o[2], py0 + o[3]); ctx.lineTo(px0 + o[4], py0 + o[5]); ctx.stroke();
        }
      });
      ctx.restore();
    },
    afterDraw(chart) {
      const { ctx, chartArea: a } = chart;
      ctx.save();
      // panel border
      ctx.strokeStyle = '#333333';
      ctx.lineWidth = 1.3;
      ctx.strokeRect(a.left, a.top, a.right - a.left, a.bottom - a.top);
      // panel letter
      ctx.fillStyle = '#000';
      ctx.font = '61px ' + FONT;
      ctx.textAlign = 'center';
      ctx.textBaseline = 'middle';
      ctx.fillText(p.letter, p.letterPos[0], p.letterPos[1] + 2);
      // colour bar legend
      const L = p.leg, barW = 26, barH = 131;
      ctx.textAlign = 'left';
      ctx.font = '16.8px ' + FONT;
      ctx.fillStyle = '#000';
      ctx.fillText('Log2(FC)', L.left, L.fcTitle);
      const grad = ctx.createLinearGradient(0, L.barTop + barH, 0, L.barTop);
      for (let i = 0; i <= 40; i++) {
        const v = fmin + (fmax - fmin) * i / 40;
        grad.addColorStop(i / 40, fcColour(v, lim));
      }
      ctx.fillStyle = grad;
      ctx.fillRect(L.left, L.barTop, barW, barH);
      ctx.font = '13.3px ' + FONT;
      p.fcTicks.forEach(t => {
        const ty = L.barTop + barH - (t - fmin) / (fmax - fmin) * barH;
        ctx.strokeStyle = 'rgba(255,255,255,0.9)';
        ctx.lineWidth = 1;
        ctx.beginPath();
        ctx.moveTo(L.left, ty); ctx.lineTo(L.left + 5, ty);
        ctx.moveTo(L.left + barW - 5, ty); ctx.lineTo(L.left + barW, ty);
        ctx.stroke();
        ctx.fillStyle = '#1A1A1A';
        ctx.fillText(String(t), L.left + 35, ty);
      });
      // p-value size legend
      ctx.fillStyle = '#000';
      ctx.font = 'italic 21px ' + FONT;
      ctx.fillText('p', L.left, L.pTitle);
      const pw = ctx.measureText('p').width;
      ctx.font = '21px ' + FONT;
      ctx.fillText('-value', L.left + pw + 1, L.pTitle);
      ctx.font = '13.3px ' + FONT;
      pLegendLabels.forEach((s, i) => {
        const ry = L.rows[i];
        ctx.strokeStyle = '#1A1A1A';
        ctx.lineWidth = 1;
        ctx.beginPath();
        ctx.arc(L.left + 13, ry, pLegendRadius[i], 0, Math.PI * 2);
        ctx.stroke();
        ctx.fillStyle = '#1A1A1A';
        ctx.fillText(s, L.left + 35, ry);
      });
      ctx.restore();
    }
  };
}

Chart.defaults.font.family = FONT;

panels.forEach(p => {
  const xs = p.pts.map(d => d[0]);
  const fmin = Math.min.apply(null, xs), fmax = Math.max.apply(null, xs);
  const lim = Math.max(Math.abs(fmin), Math.abs(fmax));
  new Chart(document.getElementById(p.id).getContext('2d'), {
    type: 'scatter',
    data: {
      datasets: [{
        data: p.pts.map(d => ({ x: d[0], y: d[1] })),
        pointBackgroundColor: p.pts.map(d => fcColour(d[0], lim)),
        pointBorderColor: '#111111',
        pointBorderWidth: 1,
        pointRadius: p.pts.map(d => pointSize(d[1])),
        pointHoverRadius: p.pts.map(d => pointSize(d[1]))
      }]
    },
    options: {
      responsive: false,
      animation: false,
      devicePixelRatio: 1,
      layout: { padding: p.pad },
      plugins: { legend: { display: false }, tooltip: { enabled: false } },
      scales: { x: axis(p, 'x'), y: axis(p, 'y') }
    },
    plugins: [decorPlugin(p, lim, fmin, fmax)]
  });
});
</script>
</body>
</html>
